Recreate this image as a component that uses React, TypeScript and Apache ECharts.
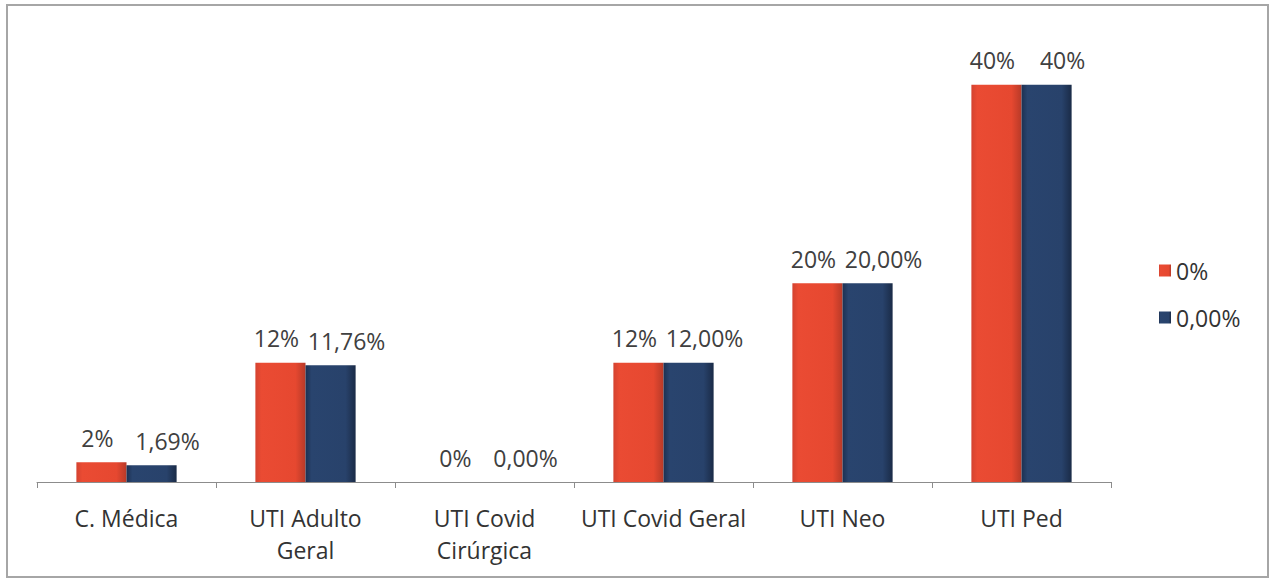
import React, { useEffect, useRef } from "react";
import * as echarts from "echarts";

const categories = [
  "C. Médica",
  "UTI Adulto\nGeral",
  "UTI Covid\nCirúrgica",
  "UTI Covid Geral",
  "UTI Neo",
  "UTI Ped",
];
const seriesRedName = "0%";
const seriesBlueName = "0,00%";
const redValues = [2, 12, 0, 12, 20, 40];
const blueValues = [1.69, 11.76, 0, 12, 20, 40];
const redLabels = ["2%", "12%", "0%", "12%", "20%", "40%"];
const blueLabels = ["1,69%", "11,76%", "0,00%", "12,00%", "20,00%", "40%"];

const FONT = "'Open Sans', 'Noto Sans', sans-serif";

export default function App() {
  const ref = useRef<HTMLDivElement>(null);
  useEffect(() => {
    if (!ref.current) return;
    const chart = echarts.init(ref.current, undefined, { renderer: "svg" });
    const redGrad = new echarts.graphic.LinearGradient(0, 0, 1, 0, [
      { offset: 0, color: "#d44330" },
      { offset: 0.12, color: "#ea4b33" },
      { offset: 0.8, color: "#e64830" },
      { offset: 1, color: "#b83a28" },
    ]);
    const blueGrad = new echarts.graphic.LinearGradient(0, 0, 1, 0, [
      { offset: 0, color: "#1d3152" },
      { offset: 0.12, color: "#29446e" },
      { offset: 0.8, color: "#28426b" },
      { offset: 1, color: "#1a2b47" },
    ]);
    chart.setOption({
      animation: false,
      backgroundColor: "#ffffff",
      textStyle: { fontFamily: FONT },
      graphic: [
        {
          type: "rect",
          shape: { x: 7, y: 5, width: 1261, height: 572 },
          style: { fill: "none", stroke: "#a6a6a6", lineWidth: 2 },
          silent: true,
        },
      ],
      legend: {
        orient: "vertical",
        left: 1154,
        top: 254,
        itemWidth: 12,
        itemHeight: 12,
        itemGap: 24,
        icon: "rect",
        textStyle: { fontSize: 23, lineHeight: 23, color: "#333333", fontFamily: FONT },
        data: [seriesRedName, seriesBlueName],
      },
      grid: { left: 37, right: 159, top: 35, bottom: 97, containLabel: false },
      xAxis: {
        type: "category",
        data: categories,
        axisLine: { lineStyle: { color: "#8c8c8c", width: 1 } },
        axisTick: { show: true, length: 6, lineStyle: { color: "#8c8c8c" } },
        axisLabel: {
          fontSize: 23,
          color: "#333333",
          lineHeight: 32,
          margin: 20,
          interval: 0,
          fontFamily: FONT,
        },
      },
      yAxis: {
        type: "value",
        min: 0,
        max: 45,
        show: false,
        splitLine: { show: false },
      },
      series: [
        {
          name: seriesRedName,
          type: "bar",
          data: redValues,
          barGap: "0%",
          barCategoryGap: "44%",
          itemStyle: { color: redGrad },
          label: {
            show: true,
            position: "top",
            distance: 13,
            offset: [-4, 0],
            fontSize: 23,
            color: "#404040",
            fontFamily: FONT,
            formatter: (p: any) => redLabels[p.dataIndex],
          },
        },
        {
          name: seriesBlueName,
          type: "bar",
          data: blueValues,
          itemStyle: { color: blueGrad },
          label: {
            show: true,
            position: "top",
            distance: 13,
            offset: [16, 0],
            fontSize: 23,
            color: "#404040",
            fontFamily: FONT,
            formatter: (p: any) => blueLabels[p.dataIndex],
          },
        },
      ],
    });
    return () => chart.dispose();
  }, []);
  return (
    <div
      ref={ref}
      style={{ position: "fixed", left: 0, top: 0, width: 1270, height: 579 }}
    />
  );
}
